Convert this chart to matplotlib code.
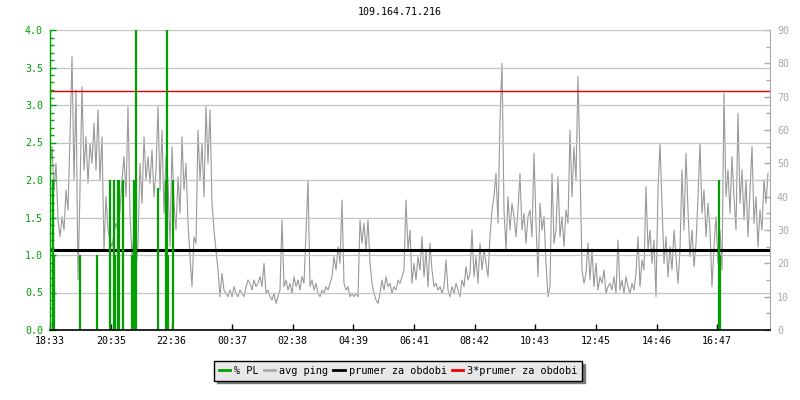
import matplotlib
matplotlib.use('Agg')
import matplotlib.pyplot as plt
from matplotlib.ticker import MultipleLocator, FormatStrFormatter
from matplotlib.lines import Line2D
import numpy as np

plt.rcParams['font.family'] = ['DejaVu Sans Mono', 'DejaVu Sans']

title = '109.164.71.216'
tick_labels = ['18:33', '20:35', '22:36', '00:37', '02:38', '04:39',
               '06:41', '08:42', '10:43', '12:45', '14:46', '16:47']
ping_step = 4  # minutes between ping samples

# avg ping [ms], one value every 4 minutes from 18:33
ping_ms = [
    48, 55, 42, 50, 33, 28, 34, 30, 42, 36,
    58, 82, 45, 72, 15, 42, 73, 48, 58, 44,
    56, 50, 62, 48, 66, 45, 58, 24, 40, 30,
    27, 25, 29, 32, 30, 36, 45, 52, 40, 67,
    35, 22, 30, 18, 26, 50, 38, 58, 45, 52,
    44, 54, 40, 48, 67, 42, 60, 35, 52, 45,
    25, 55, 38, 30, 46, 35, 58, 42, 50, 32,
    22, 13, 28, 26, 60, 45, 56, 40, 67, 50,
    66, 38, 30, 24, 18, 10, 17, 12, 11, 10,
    12, 10, 13, 11, 10, 12, 11, 10, 13, 15,
    14, 12, 15, 13, 14, 16, 13, 20, 11, 12,
    10, 9, 11, 8, 10, 12, 33, 13, 15, 12,
    14, 11, 16, 13, 15, 12, 16, 14, 29, 45,
    13, 15, 12, 14, 11, 10, 12, 11, 13, 12,
    14, 16, 22, 18, 25, 20, 39, 14, 12, 13,
    10, 11, 10, 11, 10, 33, 26, 32, 24, 33,
    20, 14, 11, 9, 8, 11, 15, 12, 16, 13,
    14, 11, 13, 12, 15, 14, 16, 18, 39, 24,
    30, 14, 20, 15, 22, 18, 28, 16, 24, 13,
    26, 18, 13, 14, 12, 13, 11, 13, 21, 12,
    10, 13, 11, 14, 12, 10, 15, 13, 19, 15,
    17, 30, 16, 22, 14, 26, 18, 24, 20, 16,
    28, 36, 40, 47, 32, 63, 80, 36, 24, 40,
    30, 38, 34, 28, 36, 47, 30, 35, 26, 34,
    36, 28, 53, 32, 16, 38, 30, 34, 20, 10,
    13, 47, 26, 30, 46, 28, 34, 25, 36, 32,
    60, 40, 55, 45, 76, 50, 18, 14, 17, 26,
    15, 24, 13, 20, 12, 16, 14, 18, 11, 13,
    14, 12, 16, 11, 27, 12, 15, 11, 16, 13,
    11, 14, 12, 17, 28, 13, 21, 18, 43, 24,
    30, 20, 27, 10, 42, 56, 38, 20, 28, 16,
    25, 18, 30, 22, 14, 24, 48, 30, 53, 36,
    22, 30, 19, 26, 40, 56, 35, 42, 28, 38,
    30, 13, 25, 34, 20, 30, 18, 71, 40, 48,
    35, 52, 40, 30, 65, 38, 48, 33, 45, 28,
    42, 55, 32, 40, 25, 36, 30, 45, 38, 47,
]

# packet loss events: minutes after 18:33 and % value
pl_min = [6, 8, 60, 94, 120, 128, 130, 136, 138, 146, 164, 166, 168,
          172, 216, 232, 234, 236, 246, 1338, 1340]
pl_val = [2.0, 1.0, 1.0, 1.0, 2.0, 2.0, 1.0, 2.0, 2.0, 2.0, 1.0, 1.0, 2.0,
          4.0, 1.9, 2.0, 4.0, 1.0, 2.0, 2.0, 1.0]

avg_ms = 23.9

green = '#00a000'
gray = '#999999'
axgray = '#a8a8a8'

def label_to_min(s):
    h, m = map(int, s.split(':'))
    h0, m0 = map(int, tick_labels[0].split(':'))
    return ((h * 60 + m) - (h0 * 60 + m0)) % 1440

tick_pos = [label_to_min(s) for s in tick_labels]
ping_t = np.arange(len(ping_ms)) * ping_step

fig = plt.figure(figsize=(8, 4), dpi=100)
ax = fig.add_axes([50 / 800, 70 / 400, 720 / 800, 300 / 400])
ax2 = ax.twinx()
ax.set_zorder(ax2.get_zorder() + 1)
ax.patch.set_visible(False)

ax2.plot(ping_t, ping_ms, color=gray, linewidth=0.8)
ax2.axhline(avg_ms, color='black', linewidth=2.2)
ax2.axhline(3 * avg_ms, color='#dd0000', linewidth=1.0)

ax.vlines(pl_min, 0, pl_val, color=green, linewidth=1.6)

ax.set_xlim(0, 1440)
ax.set_ylim(0, 4)
ax2.set_ylim(0, 90)

ax.yaxis.set_major_locator(MultipleLocator(0.5))
ax.yaxis.set_minor_locator(MultipleLocator(0.1))
ax.yaxis.set_major_formatter(FormatStrFormatter('%.1f'))
ax2.yaxis.set_major_locator(MultipleLocator(10))
ax2.yaxis.set_minor_locator(MultipleLocator(5))

ax.set_xticks(tick_pos)
ax.set_xticklabels(tick_labels)

ax.grid(axis='y', which='major', color='#c4c4c4', linewidth=0.9, zorder=0)
ax.set_axisbelow(True)

for a in (ax, ax2):
    a.spines['top'].set_visible(False)
ax.spines['left'].set_color(green)
ax.spines['left'].set_linewidth(1.0)
ax.spines['right'].set_visible(False)
ax2.spines['left'].set_visible(False)
ax2.spines['bottom'].set_visible(False)
ax2.spines['right'].set_color(axgray)
ax.spines['bottom'].set_color('black')
ax.spines['bottom'].set_linewidth(1.2)

ax.tick_params(axis='y', which='major', direction='in', length=4, width=1,
               color=green, labelcolor=green, labelsize=7.2, pad=5)
ax.tick_params(axis='y', which='minor', direction='in', length=3, width=1,
               color=green)
ax.tick_params(axis='x', direction='in', length=4, width=1, color='black',
               labelcolor='black', labelsize=7.2, pad=4)
ax2.tick_params(axis='y', which='major', direction='in', length=4, width=1,
                color=axgray, labelcolor=axgray, labelsize=7.2, pad=5)
ax2.tick_params(axis='y', which='minor', direction='in', length=3, width=1,
                color=axgray)

fig.text(0.5, 1 - 12 / 400, title, ha='center', va='center', fontsize=7.2)

handles = [Line2D([], [], color=green, linewidth=2),
           Line2D([], [], color='#aaaaaa', linewidth=2),
           Line2D([], [], color='black', linewidth=2),
           Line2D([], [], color='#ee0000', linewidth=2)]
labels = ['% PL', 'avg ping', 'prumer za obdobi', '3*prumer za obdobi']
leg = fig.legend(handles, labels, loc='center', bbox_to_anchor=(398 / 800, 1 - 371 / 400),
                 ncol=4, fontsize=7.4, frameon=True, fancybox=False,
                 handlelength=1.1, handletextpad=0.4, columnspacing=0.5,
                 borderpad=0.45, shadow={'color': '#7a7a7a', 'alpha': 1.0})
leg.get_frame().set_facecolor('#e8e8e8')
leg.get_frame().set_edgecolor('black')
leg.get_frame().set_linewidth(1.0)
leg.get_frame().set_alpha(1.0)

fig.savefig('out.png', dpi=100)
